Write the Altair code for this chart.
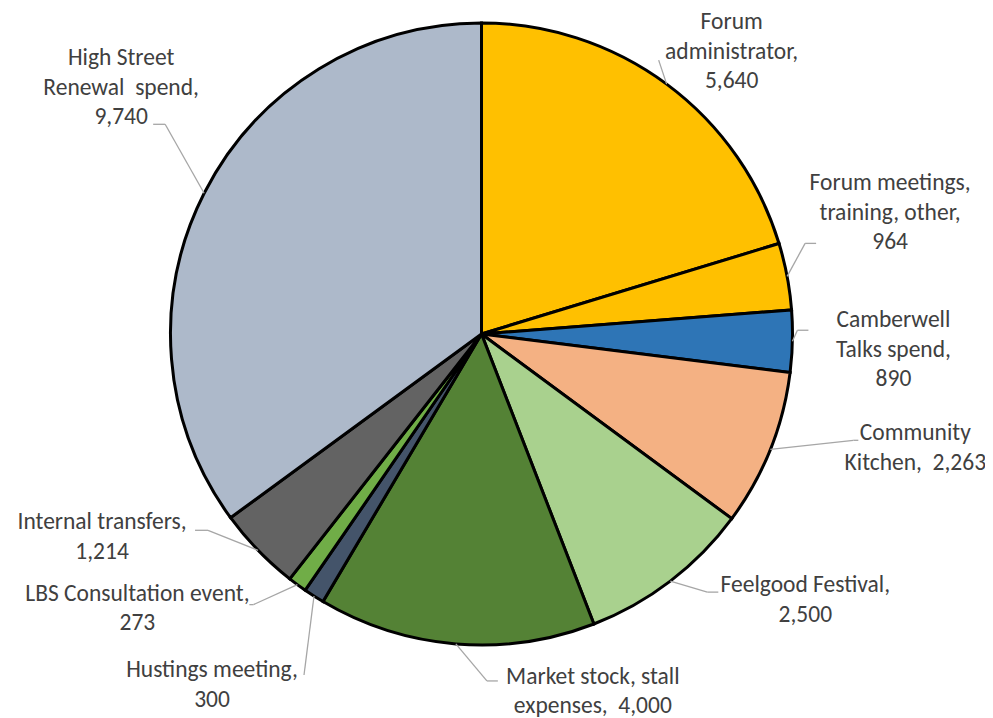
import altair as alt
import pandas as pd

# ---- data ----
categories = [
    "Forum administrator", "Forum meetings, training, other", "Camberwell Talks spend",
    "Community Kitchen", "Feelgood Festival", "Market stock, stall expenses",
    "Hustings meeting", "LBS Consultation event", "Internal transfers",
    "High Street Renewal spend",
]
values = [5640, 964, 890, 2263, 2500, 4000, 300, 273, 1214, 9740]
colors = ["#FFC000", "#FFC000", "#2E75B6", "#F4B183", "#A9D18E",
          "#548235", "#44546A", "#70AD47", "#636363", "#ADB9CA"]
labels = [
    "Forum\nadministrator,\n5,640",
    "Forum meetings,\ntraining, other,\n964",
    "Camberwell\nTalks spend,\n890",
    "Community\nKitchen,\u00a0 2,263",
    "Feelgood Festival,\n2,500",
    "Market stock, stall\nexpenses,\u00a0 4,000",
    "Hustings meeting,\n300",
    "LBS Consultation event,\n273",
    "Internal transfers,\n1,214",
    "High Street\nRenewal\u00a0 spend,\n9,740",
]

# ---- layout (pixel nudges relative to each slice's mid-arc point) ----
CX, CY, R = 473.5, 326.0, 311
elbow_dx = [-8, 18, 5, 83, 37, 31, -10, -44, -50, -39]
elbow_dy = [-24, -33, -11, -9, 11, 37, 79, 20, -20, -69]
hook_len = [0, 11, 11, 5, 11, 11, 0, -4, -13, -12]
label_dx = [65, 103, 101, 145, 135, 137, -102, -160, -156, -83]
label_dy = [-62, -93, -21, -16, 4, 33, 74, 9, -28, -135]

df = pd.DataFrame({
    "category": categories,
    "value": values,
    "order": list(range(len(categories))),
    "label": labels,
    "edx": elbow_dx, "edy": elbow_dy, "hlen": hook_len,
    "ldx": label_dx, "ldy": label_dy,
})

FONT = "Calibri, Carlito, Lato, sans-serif"

pie = alt.Chart(df).mark_arc(outerRadius=R, stroke="black", strokeWidth=3).encode(
    theta=alt.Theta("value:Q", stack=True),
    order=alt.Order("order:Q"),
    color=alt.Color("category:N", scale=alt.Scale(domain=categories, range=colors), legend=None),
    x=alt.value(CX),
    y=alt.value(CY),
)

base = (
    alt.Chart(df)
    .transform_window(cum="sum(value)", frame=[None, 0], sort=[alt.SortField("order")])
    .transform_joinaggregate(total="sum(value)")
    .transform_calculate(
        mid="(datum.cum - datum.value / 2) / datum.total * 2 * PI",
    )
    .transform_calculate(
        ax=f"{CX} + {R} * sin(datum.mid)",
        ay=f"{CY} - {R} * cos(datum.mid)",
    )
    .transform_calculate(
        ex="datum.ax + datum.edx",
        ey="datum.ay + datum.edy",
        lx="datum.ax + datum.ldx",
        ly="datum.ay + datum.ldy",
    )
    .transform_calculate(hx="datum.ex + datum.hlen")
)

lead1 = base.mark_rule(color="#A6A6A6", strokeWidth=1.3).encode(
    x=alt.X("ax:Q", scale=None, axis=None),
    y=alt.Y("ay:Q", scale=None, axis=None),
    x2="ex:Q",
    y2="ey:Q",
)
lead2 = base.mark_rule(color="#A6A6A6", strokeWidth=1.3).encode(
    x=alt.X("ex:Q", scale=None, axis=None),
    y=alt.Y("ey:Q", scale=None, axis=None),
    x2="hx:Q",
    y2="ey:Q",
)
text = base.mark_text(
    font=FONT, fontSize=23.5, color="#404040", lineBreak="\n", lineHeight=29.5,
    align="center", baseline="middle",
).encode(
    x=alt.X("lx:Q", scale=None, axis=None),
    y=alt.Y("ly:Q", scale=None, axis=None),
    text="label:N",
)

chart = (
    alt.layer(pie, lead1, lead2, text)
    .properties(width=977, height=710, padding=0, autosize="none")
    .configure_view(stroke=None)
)

chart.save("out.html", embed_options={"renderer": "svg", "actions": False})
